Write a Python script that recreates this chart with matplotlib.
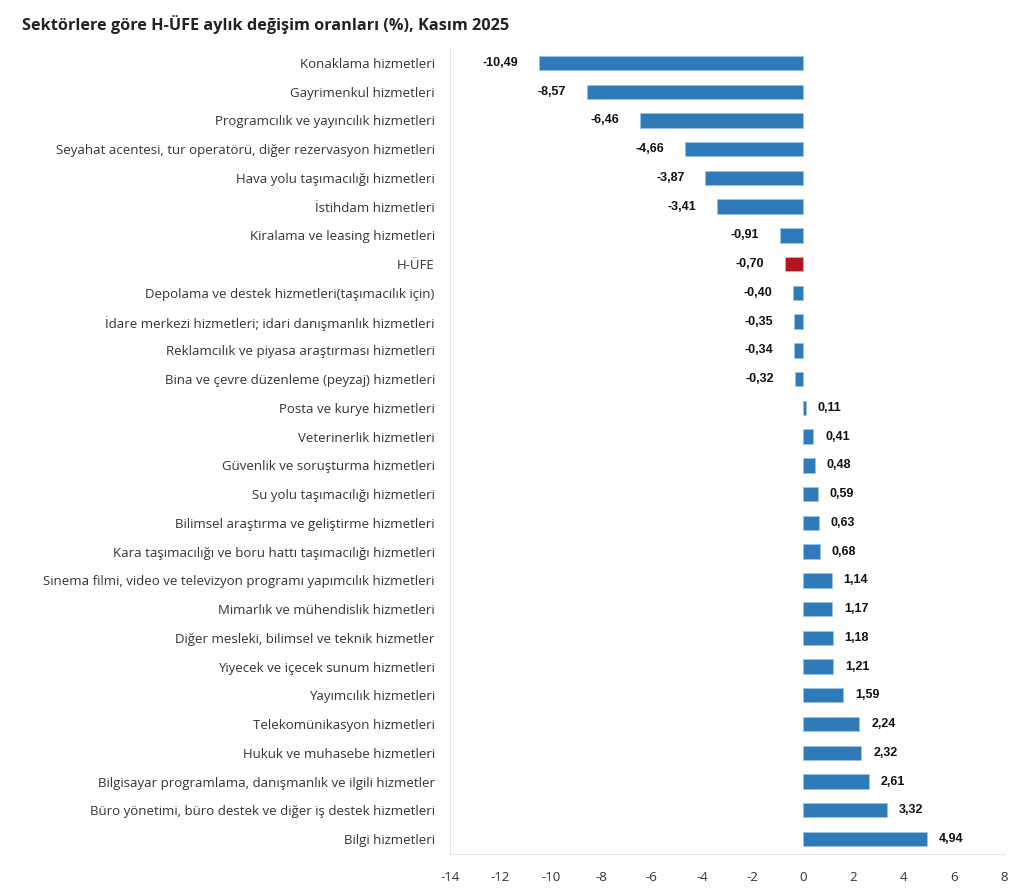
import matplotlib.pyplot as plt

categories = [
    "Konaklama hizmetleri",
    "Gayrimenkul hizmetleri",
    "Programcılık ve yayıncılık hizmetleri",
    "Seyahat acentesi, tur operatörü, diğer rezervasyon hizmetleri",
    "Hava yolu taşımacılığı hizmetleri",
    "İstihdam hizmetleri",
    "Kiralama ve leasing hizmetleri",
    "H-ÜFE",
    "Depolama ve destek hizmetleri(taşımacılık için)",
    "İdare merkezi hizmetleri; idari danışmanlık hizmetleri",
    "Reklamcılık ve piyasa araştırması hizmetleri",
    "Bina ve çevre düzenleme (peyzaj) hizmetleri",
    "Posta ve kurye hizmetleri",
    "Veterinerlik hizmetleri",
    "Güvenlik ve soruşturma hizmetleri",
    "Su yolu taşımacılığı hizmetleri",
    "Bilimsel araştırma ve geliştirme hizmetleri",
    "Kara taşımacılığı ve boru hattı taşımacılığı hizmetleri",
    "Sinema filmi, video ve televizyon programı yapımcılık hizmetleri",
    "Mimarlık ve mühendislik hizmetleri",
    "Diğer mesleki, bilimsel ve teknik hizmetler",
    "Yiyecek ve içecek sunum hizmetleri",
    "Yayımcılık hizmetleri",
    "Telekomünikasyon hizmetleri",
    "Hukuk ve muhasebe hizmetleri",
    "Bilgisayar programlama, danışmanlık ve ilgili hizmetler",
    "Büro yönetimi, büro destek ve diğer iş destek hizmetleri",
    "Bilgi hizmetleri",
]
values = [-10.49, -8.57, -6.46, -4.66, -3.87, -3.41, -0.91, -0.70, -0.40, -0.35,
          -0.34, -0.32, 0.11, 0.41, 0.48, 0.59, 0.63, 0.68, 1.14, 1.17,
          1.18, 1.21, 1.59, 2.24, 2.32, 2.61, 3.32, 4.94]
xticks = [-14, -12, -10, -8, -6, -4, -2, 0, 2, 4, 6, 8]

blue = "#2F7BB9"
red = "#B0161C"
colors = [red if c == "H-ÜFE" else blue for c in categories]

fig = plt.figure(figsize=(10.24, 8.89), dpi=100)
ax = fig.add_axes([0.4395, 0.0394, 0.5415, 0.9066])

pos = list(range(len(categories)))
ax.barh(pos, values, height=0.5, color=colors, edgecolor="#9CC3E4", linewidth=0.6)

for p, v in zip(pos, values):
    txt = f"{v:.2f}".replace(".", ",")
    if v < 0:
        ax.annotate(txt, (v, p), xytext=(-15, 0), textcoords="offset points",
                    ha="right", va="center", fontsize=9, fontweight="bold",
                    family="Liberation Sans", color="#111111")
    else:
        ax.annotate(txt, (v, p), xytext=(8.5, 0), textcoords="offset points",
                    ha="left", va="center", fontsize=9, fontweight="bold",
                    family="Liberation Sans", color="#111111")

ax.set_ylim(27.52, -0.52)
ax.set_xlim(-14, 8)
ax.set_yticks(pos)
ax.set_yticklabels(categories, fontsize=9.5, family="Open Sans", color="#333333")
ax.set_xticks(xticks)
ax.set_xticklabels([str(t) for t in xticks], fontsize=9.5, family="Open Sans", color="#333333")
ax.tick_params(axis="y", length=0, pad=11)
ax.tick_params(axis="x", length=0, pad=12)

for s in ["top", "right"]:
    ax.spines[s].set_visible(False)
ax.spines["left"].set_color("#E3E3E3")
ax.spines["bottom"].set_color("#E3E3E3")

fig.text(0.021, 0.983, "Sektörlere göre H-ÜFE aylık değişim oranları (%), Kasım 2025",
         ha="left", va="top", fontsize=11.7, fontweight="bold", family="Open Sans",
         color="#222222")

fig.savefig("out.png", dpi=100)
